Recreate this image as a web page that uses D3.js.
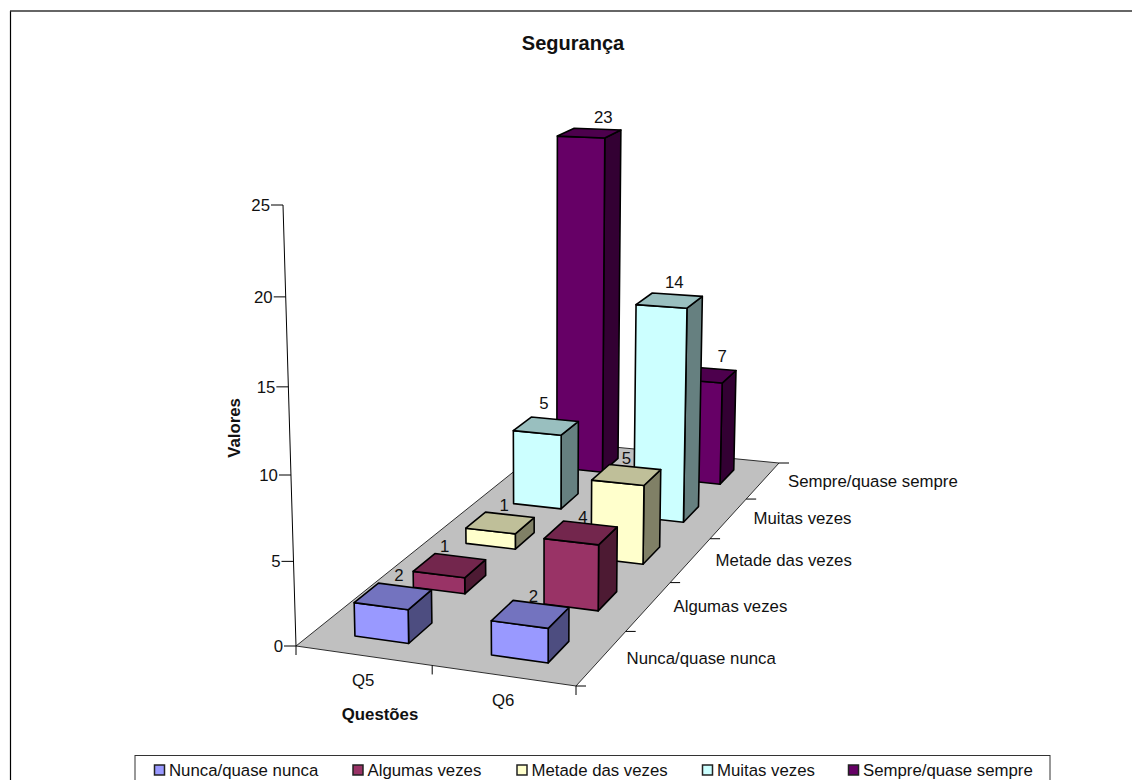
<!DOCTYPE html>
<html>
<head>
<meta charset="utf-8">
<script src="https://cdn.jsdelivr.net/npm/d3@7"></script>
<style>
  html, body { margin: 0; padding: 0; background: #fff; overflow: hidden; }
  text { font-family: "Liberation Sans", Arial, sans-serif; fill: #111; }
</style>
</head>
<body>
<svg id="chart" width="1132" height="780"></svg>
<script>
// Survey answers per question
const questions = ["Q5", "Q6"];
const seriesNames = ["Nunca/quase nunca", "Algumas vezes", "Metade das vezes", "Muitas vezes", "Sempre/quase sempre"];
const seriesColors = ["#9999FF", "#993366", "#FFFFCC", "#CCFFFF", "#660066"];
const q5Values = [2, 1, 1, 5, 23];
const q6Values = [2, 4, 5, 14, 7];
const valueTicks = [0, 5, 10, 15, 20, 25];
const questionValues = [q5Values, q6Values];

// Floor corners on screen and the lean of the value axis define the perspective camera
const floor = [[296, 646], [576, 686], [779, 463], [552, 441]];
const valueAxisTop = [283, 205];
const perspectiveW = -0.05;

// Small offsets that keep value labels clear of their bars, per question and series
const labelNudge = [
  [[3, 0], [-8, 2], [1, 3], [-5, -2], [11, 5]],
  [[0, 3], [-1, 5], [-3, 4], [2, 2], [14, 2]]
];

const textSize = 16.8;

const [[x0, y0], [x1, y1], [x2, y2], [x3, y3]] = floor;
const dx3 = x0 - x1 + x2 - x3, dy3 = y0 - y1 + y2 - y3;
const dx1 = x1 - x2, dx2 = x3 - x2, dy1 = y1 - y2, dy2 = y3 - y2;
const det = dx1 * dy2 - dx2 * dy1;
const pg = (dx3 * dy2 - dx2 * dy3) / det;
const ph = (dx1 * dy3 - dx3 * dy1) / det;
const pa = x1 - x0 + pg * x1, pb = x3 - x0 + ph * x3;
const pd = y1 - y0 + pg * y1, pe = y3 - y0 + ph * y3;
const hx = valueAxisTop[0] * (1 + perspectiveW) - x0;
const hy = valueAxisTop[1] * (1 + perspectiveW) - y0;

function project(u, v, t) {
  const w = pg * u + ph * v + perspectiveW * t + 1;
  return [(pa * u + pb * v + hx * t + x0) / w, (pd * u + pe * v + hy * t + y0) / w];
}

// Data scales: question along the front edge, series in depth, value upward
const uScale = d3.scaleBand().domain(questions).range([0, 1]).paddingInner(0.6).paddingOuter(0.3);
const vScale = d3.scaleBand().domain(seriesNames).range([0, 1]).paddingInner(0.6).paddingOuter(0.3);
const tScale = d3.scaleLinear().domain([0, 25]).range([0, 1]);

const svg = d3.select("#chart");
const line = d3.line();
const shade = (c, k) => { const r = d3.rgb(c); return d3.rgb(r.r * k, r.g * k, r.b * k).formatHex(); };
const poly = pts => line(pts) + "Z";

// Outer frame: left and top edges
svg.append("path").attr("d", "M10.5,780V11").attr("stroke", "#000").attr("stroke-width", 1.2).attr("fill", "none");
svg.append("path").attr("d", "M10,11H1132").attr("stroke", "#333").attr("stroke-width", 1.6).attr("fill", "none");

// Title
svg.append("text").attr("x", 573).attr("y", 50).attr("text-anchor", "middle")
  .attr("font-size", 20).attr("font-weight", "bold").text("Segurança");

// Floor
svg.append("path").attr("d", poly([project(0,0,0), project(1,0,0), project(1,1,0), project(0,1,0)]))
  .attr("fill", "#C0C0C0").attr("stroke", "#000").attr("stroke-width", 0.8);

const axes = svg.append("g").attr("stroke", "#000").attr("stroke-width", 1).attr("fill", "none");
const labels = svg.append("g").attr("font-size", textSize);

// Value axis with ticks
axes.append("path").attr("d", line([project(0,0,0), project(0,0,1)]));
valueTicks.forEach(t => {
  const p = project(0, 0, tScale(t));
  axes.append("path").attr("d", line([[p[0] - 12, p[1]], p]));
  labels.append("text").attr("x", p[0] - 13).attr("y", p[1] + 6).attr("text-anchor", "end").text(t);
});

// Question axis ticks and labels
const uStep = uScale.step();
d3.range(questions.length + 1).forEach(i => {
  const p = project(i * uStep, 0, 0);
  axes.append("path").attr("d", line([p, [p[0], p[1] + 9]]));
});
questions.forEach(q => {
  const p = project(uScale(q) + uScale.bandwidth() / 2, 0, 0);
  labels.append("text").attr("x", p[0]).attr("y", p[1] + 30).attr("text-anchor", "middle").text(q);
});

// Series axis ticks and labels
const vStep = vScale.step();
d3.range(seriesNames.length + 1).forEach(i => {
  const p = project(1, i * vStep, 0);
  axes.append("path").attr("d", line([p, [p[0] + 10, p[1]]]));
});
seriesNames.forEach(s => {
  const p = project(1, vScale(s) + vScale.bandwidth() / 2, 0);
  labels.append("text").attr("x", p[0] + 25).attr("y", p[1] + 6).text(s);
});

// Axis titles
svg.append("text").attr("x", 380).attr("y", 720).attr("text-anchor", "middle")
  .attr("font-size", textSize).attr("font-weight", "bold").text("Questões");
svg.append("text").attr("transform", "translate(240,428) rotate(-90)").attr("text-anchor", "middle")
  .attr("font-size", textSize).attr("font-weight", "bold").text("Valores");

// Bars, painted from the back series to the front one
const barLayer = svg.append("g").attr("stroke", "#000").attr("stroke-width", 1.6).attr("stroke-linejoin", "round");
const valueLabels = [];
d3.range(seriesNames.length - 1, -1, -1).forEach(si => {
  questions.forEach((q, qi) => {
    const value = questionValues[qi][si];
    const u0 = uScale(q), u1 = u0 + uScale.bandwidth();
    const v0 = vScale(seriesNames[si]), v1 = v0 + vScale.bandwidth();
    const t = tScale(value);
    const c = seriesColors[si];
    barLayer.append("path").attr("fill", shade(c, 0.5))
      .attr("d", poly([project(u1,v0,0), project(u1,v1,0), project(u1,v1,t), project(u1,v0,t)]));
    barLayer.append("path").attr("fill", c)
      .attr("d", poly([project(u0,v0,0), project(u1,v0,0), project(u1,v0,t), project(u0,v0,t)]));
    barLayer.append("path").attr("fill", shade(c, 0.75))
      .attr("d", poly([project(u0,v0,t), project(u1,v0,t), project(u1,v1,t), project(u0,v1,t)]));
    const m = project((u0 + u1) / 2, (v0 + v1) / 2, t);
    const [nx, ny] = labelNudge[qi][si];
    valueLabels.push({ value, x: m[0] + 3 + nx, y: m[1] - 15 + ny });
  });
});
svg.append("g").attr("font-size", textSize).selectAll("text").data(valueLabels).join("text")
  .attr("x", d => d.x).attr("y", d => d.y).attr("text-anchor", "middle").text(d => d.value);

// Legend
const legendStarts = [154, 352.5, 516.5, 702, 848];
svg.append("rect").attr("x", 135).attr("y", 755.5).attr("width", 915).attr("height", 30)
  .attr("fill", "#fff").attr("stroke", "#333");
seriesNames.forEach((s, i) => {
  svg.append("rect").attr("x", legendStarts[i] + 0.5).attr("y", 765).attr("width", 10).attr("height", 10)
    .attr("fill", seriesColors[i]).attr("stroke", "#222").attr("stroke-width", 1.5);
  svg.append("text").attr("x", legendStarts[i] + 15).attr("y", 776).attr("font-size", textSize).text(s);
});
</script>
</body>
</html>
